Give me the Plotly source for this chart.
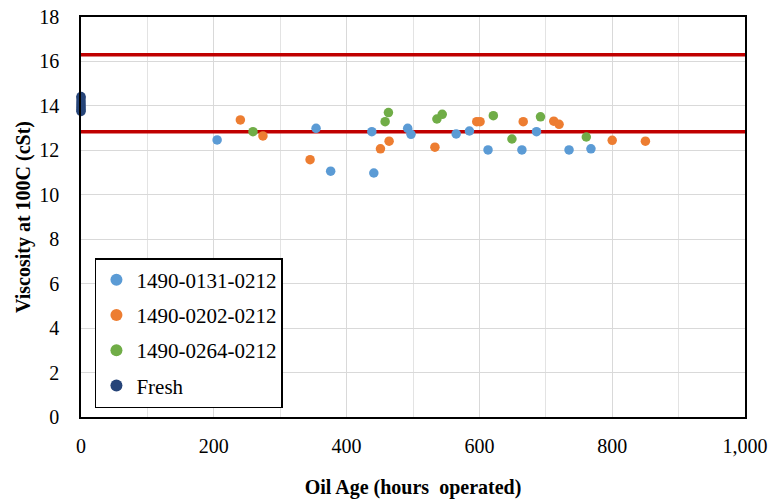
import plotly.graph_objects as go

# ---- data ----
s1_name = "1490-0131-0212"
s1_x = [205, 354, 376, 438, 441, 492, 497, 565, 585, 613, 664, 686, 735, 768]
s1_y = [12.47, 12.99, 11.06, 12.84, 10.98, 12.99, 12.72, 12.74, 12.87, 12.02, 12.02, 12.84, 12.02, 12.07]

s2_name = "1490-0202-0212"
s2_x = [240, 274, 345, 451, 464, 533, 596, 601, 666, 712, 720, 800, 850]
s2_y = [13.37, 12.65, 11.58, 12.07, 12.41, 12.14, 13.29, 13.29, 13.29, 13.31, 13.17, 12.45, 12.41]

s3_name = "1490-0264-0212"
s3_x = [259, 458, 463, 536, 544, 621, 649, 692, 761]
s3_y = [12.84, 13.29, 13.70, 13.41, 13.62, 13.56, 12.51, 13.51, 12.60]

fresh_name = "Fresh"
fresh_x = [0, 0, 0, 0, 0, 0, 0, 0]
fresh_y = [14.42, 14.35, 14.22, 14.10, 14.00, 13.90, 13.82, 13.75]

limit_lines = [16.3, 12.84]

x_range = [0, 1000]
y_range = [0, 18]

colors = ["#5B9BD5", "#ED7D31", "#70AD47", "#264478"]
FONT = "Liberation Serif"

fig = go.Figure()

for v in limit_lines:
    fig.add_trace(go.Scatter(
        x=x_range, y=[v, v], mode="lines", showlegend=False, hoverinfo="skip",
        line=dict(color="#C00000", width=3.5),
    ))

series = [(s1_name, s1_x, s1_y), (s2_name, s2_x, s2_y), (s3_name, s3_x, s3_y), (fresh_name, fresh_x, fresh_y)]
for (name, xs, ys), c in zip(series, colors):
    fig.add_trace(go.Scatter(
        x=xs, y=ys, mode="markers", name=name, legendgroup=name,
        marker=dict(color=c, size=9.5, line=dict(width=0)),
        cliponaxis=False,
    ))

fig.update_layout(
    width=773, height=504,
    margin=dict(l=81, r=28, t=17, b=87),
    paper_bgcolor="white", plot_bgcolor="white",
    font=dict(family=FONT, size=20, color="black"),
    showlegend=True,
    legend=dict(
        x=0.021, y=0.3975, xanchor="left", yanchor="top",
        bgcolor="white", bordercolor="black", borderwidth=1.5,
        font=dict(family=FONT, size=21, color="black"),
        tracegroupgap=5, itemsizing="constant",
    ),
)

fig.update_xaxes(
    range=x_range, dtick=200, tickformat=",", showgrid=True, gridcolor="#D9D9D9", gridwidth=1,
    minor=dict(dtick=100, showgrid=True, gridcolor="#E3E3E3", gridwidth=1),
    zeroline=False, showline=True, linecolor="black", linewidth=1.5, mirror=True,
    ticks="", ticklabelstandoff=10, automargin=False,
    tickfont=dict(family=FONT, size=20),
    title=dict(text="<b>Oil Age (hours  operated)</b>", font=dict(family=FONT, size=20), standoff=24),
)
fig.update_yaxes(
    range=y_range, dtick=2, showgrid=True, gridcolor="#D9D9D9", gridwidth=1,
    zeroline=False, showline=True, linecolor="black", linewidth=1.5, mirror=True,
    ticks="", ticklabelstandoff=16, automargin=False,
    tickfont=dict(family=FONT, size=20),
    title=dict(text="<b>Viscosity at 100C (cSt)</b>", font=dict(family=FONT, size=20), standoff=3),
)

fig.write_html("out.html")
